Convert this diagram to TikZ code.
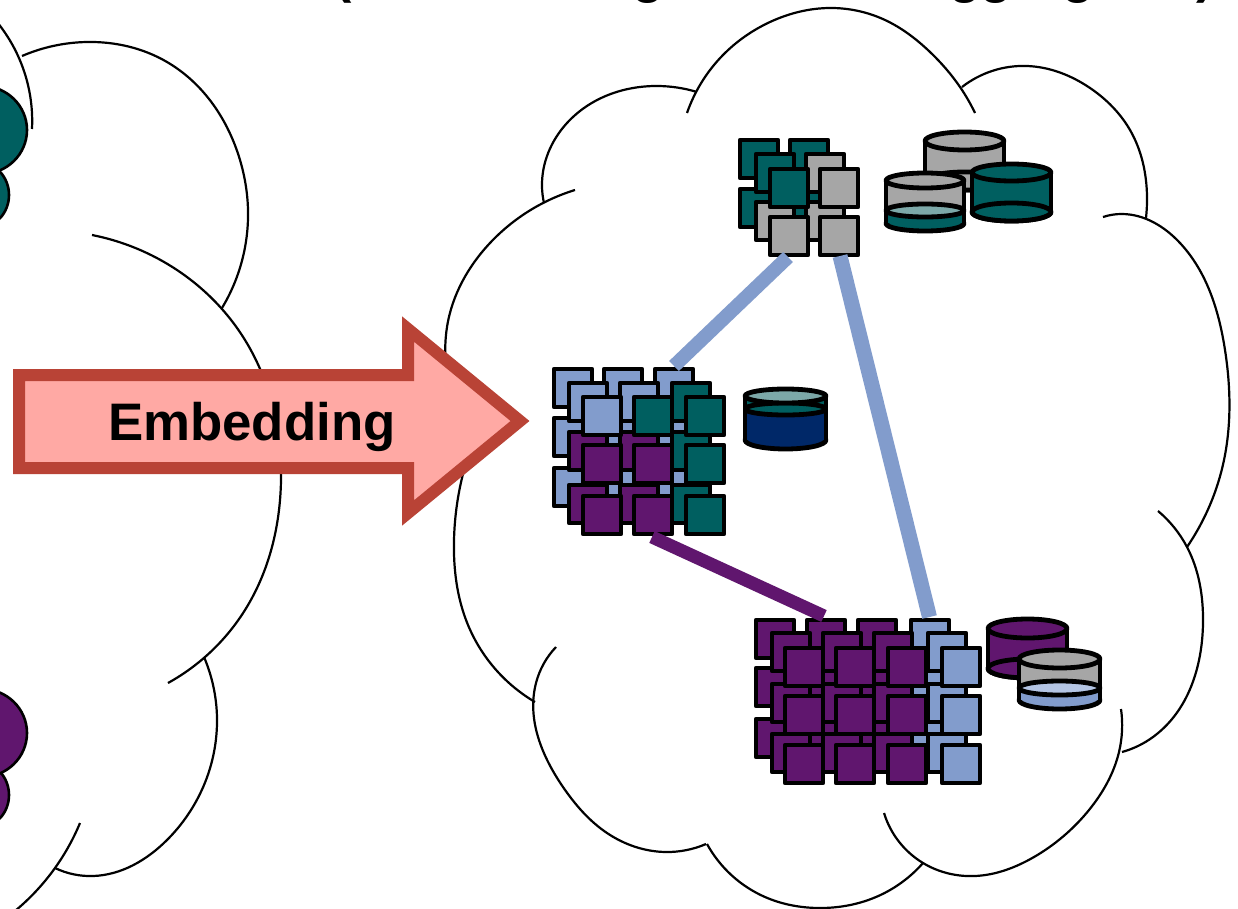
\documentclass[tikz,border=0pt]{standalone}
\usepackage{fontspec}
\setmainfont{Liberation Sans}
\usetikzlibrary{hobby}
\definecolor{cteal}{HTML}{005F60}
\definecolor{cgray}{HTML}{A6A6A6}
\definecolor{cblue}{HTML}{829CCC}
\definecolor{cpurple}{HTML}{60166E}
\definecolor{cnavy}{HTML}{002868}
\definecolor{clteal}{HTML}{7CA8A8}
\definecolor{clblue}{HTML}{B4C5E4}
\definecolor{arrowedge}{HTML}{B94336}
\definecolor{arrowfill}{HTML}{FFA9A4}
\tikzset{
  cloudline/.style={draw=black,line width=2.2pt,line cap=butt,use Hobby shortcut},
  lobe/.style={draw=black,line width=2.6pt},
  cellbox/.style={draw=black,line width=4.6pt,line join=round},
  cylline/.style={draw=black,line width=4.8pt,line join=round},
  titleglyph/.style={anchor=base west,inner sep=0pt,font=\bfseries\fontsize{52}{60}\selectfont},
  bigarrow/.style={draw=arrowedge,fill=arrowfill,line width=12pt,line join=miter,miter limit=10},
  link/.style={line width=#1,line cap=butt}
}
% x y colour: outer top-left corner of a 42 x 42 cell
\newcommand{\cellsq}[3]{\draw[cellbox,fill=#3] ({#1+2},{#2+2}) rectangle ++(38,38);}
% colours: top ellipse, upper body, level ellipse, lower body
\newcommand{\cylcolors}[4]{\colorlet{cTop}{#1}\colorlet{cBody}{#2}\colorlet{cLev}{#3}\colorlet{cLiq}{#4}}
% cx rx ytop rytop ylevel rylevel ybottom rybottom
\newcommand{\cyl}[8]{%
  \draw[cylline,fill=cLiq] (#1,#7) ellipse [x radius=#2,y radius=#8];
  \fill[cLiq] ({#1-#2},#5) rectangle ({#1+#2},#7);
  \fill[cBody] ({#1-#2},#3) rectangle ({#1+#2},#5);
  \draw[cylline] ({#1-#2},#3) -- ({#1-#2},#7) ({#1+#2},#3) -- ({#1+#2},#7);
  \draw[cylline,fill=cLev] (#1,#5) ellipse [x radius=#2,y radius=#6];
  \draw[cylline,fill=cTop] (#1,#3) ellipse [x radius=#2,y radius=#4];
}
\begin{document}
\begin{tikzpicture}[x=1pt,y=-1pt]
\useasboundingbox (0,0) rectangle (1238,909);
\clip (0,0) rectangle (1238,909);
\fill[white] (0,0) rectangle (1238,909);

% title fragments cut by the top edge
\node[titleglyph] (t1) at (334,-7) {(};
\node[titleglyph] (t2) at (632,-7) {g};
\node[titleglyph] (t3) at (949,-7) {gg};
\node[titleglyph] (t4) at (1062,-7) {g};
\node[titleglyph] (t5) at (1196,-7) {)};

% left cloud lobes
\draw[lobe,fill=cteal] (-20,195) ellipse [x radius=29,y radius=32];
\draw[lobe,fill=cteal] (-18,130) ellipse [x radius=45,y radius=44];
\draw[lobe,fill=cpurple] (-20,795) ellipse [x radius=29,y radius=32];
\draw[lobe,fill=cpurple] (-18,733) ellipse [x radius=45,y radius=44];

% left cloud
\draw[cloudline] (-3,22) .. (28,85) .. (32,129);
\draw[cloudline] (22,56) .. (87,42) .. (167,62) .. (240,160) .. (248,210) .. (222,308);
\draw[cloudline] (92,235) .. (177,270) .. (245,340) .. (281,480) .. (245,610) .. (168,683);
\draw[cloudline] (204,657) .. (217,723) .. (167,840) .. (93,876) .. (55,868);
\draw[cloudline] (80,823) .. (55,868) .. (10,915);

% right cloud
\draw[cloudline] (687,113) .. (723,55) .. (770,22) .. (830,8) .. (885,20) .. (930,52) .. (960,87) .. (975,113);
\draw[cloudline] (962,87) .. (1027,66) .. (1090,88) .. (1130,130) .. (1147,197) .. (1146,218);
\draw[cloudline] (1103,217) .. (1122,214) .. (1180,243) .. (1225,350) .. (1224,460) .. (1187,547);
\draw[cloudline] (1158,511) .. (1187,547) .. (1203,623) .. (1153,737) .. (1122,752);
\draw[cloudline] (1121,709) .. (1119,752) .. (1089,810) .. (1034,857) .. (975,876) .. (923,863) .. (884,813);
\draw[cloudline] (923,863) .. (876,897) .. (820,908) .. (765,897) .. (707,844);
\draw[cloudline] (556,647) .. (536,683) .. (563,787) .. (607,833) .. (666,852) .. (706,844);
\draw[cloudline] (575,190) .. (490,243) .. (447,327) .. (449,400) .. (455,450);
\draw[cloudline] (464,470) .. (454,540) .. (468,625) .. (535,702);
\draw[cloudline] (697,92) .. (657,86) .. (567,123) .. (542,187) .. (544,203);

% embedding arrow
\draw[bigarrow] (19,375) -- (408,375) -- (408,329) -- (520,421) -- (408,513) -- (408,468) -- (19,468) -- cycle;
\node[anchor=base west,inner sep=0pt,font=\bfseries\fontsize{52.8}{60}\selectfont] (embed) at (108,440) {Embedding};

% top group
\foreach \x/\y/\c in {738/138/cteal,788/138/cteal,738/187/cteal,788/187/cteal,
  754/152/cteal,804/152/cgray,754/200/cgray,804/200/cgray,
  768/167/cteal,818/167/cgray,768/215/cgray,818/215/cgray}
  {\cellsq{\x}{\y}{\c}}
% middle group
\foreach \x/\y/\c in {552/367/cblue,602/367/cblue,653/367/cblue,
  552/416/cblue,602/416/cblue,653/416/cblue,
  552/466/cblue,602/466/cblue,653/466/cblue,
  567/381/cblue,618/381/cblue,670/381/cteal,
  567/430/cpurple,618/430/cpurple,670/430/cteal,
  567/483/cpurple,618/483/cpurple,670/483/cteal,
  581/395/cblue,632/395/cteal,684/395/cteal,
  581/443/cpurple,632/443/cpurple,684/443/cteal,
  581/494/cpurple,632/494/cpurple,684/494/cteal}
  {\cellsq{\x}{\y}{\c}}
% bottom group
\foreach \x/\y/\c in {754/618/cpurple,805/618/cpurple,856/618/cpurple,909/618/cblue,
  754/666/cpurple,805/666/cpurple,856/666/cpurple,909/666/cblue,
  754/717/cpurple,805/717/cpurple,856/717/cpurple,909/717/cblue,
  770/631/cpurple,821/631/cpurple,872/631/cpurple,926/631/cblue,
  770/682/cpurple,821/682/cpurple,872/682/cpurple,926/682/cblue,
  770/732/cpurple,821/732/cpurple,872/732/cpurple,926/732/cblue,
  783/646/cpurple,834/646/cpurple,886/646/cpurple,940/646/cblue,
  783/694/cpurple,834/694/cpurple,886/694/cpurple,940/694/cblue,
  783/743/cpurple,834/743/cpurple,886/743/cpurple,940/743/cblue}
  {\cellsq{\x}{\y}{\c}}

% links
\coordinate (topL) at (788,257);
\coordinate (topR) at (840,256);
\coordinate (midT) at (674,366);
\coordinate (midB) at (652,537);
\coordinate (botL) at (824,616);
\coordinate (botR) at (929.5,617);
\draw[cblue,link=14pt] (topL) -- (midT);
\draw[cblue,link=15pt] (topR) -- (botR);
\draw[cpurple,link=13pt] (midB) -- (botL);

% cylinders
\cylcolors{cgray}{cgray}{cgray}{cgray}
\cyl{964.5}{39.5}{141}{9}{181}{9}{181}{9}
\cylcolors{cgray}{cgray}{clteal}{cteal}
\cyl{925}{39}{180.5}{7.5}{210.5}{6.5}{223.5}{7.5}
\cylcolors{cteal}{cteal}{cteal}{cteal}
\cyl{1011.5}{39.5}{172.5}{8.5}{212}{9}{212}{9}
\cylcolors{clteal}{cteal}{cteal}{cnavy}
\cyl{785.5}{40.5}{396}{7}{409}{6}{440}{9}
\cylcolors{cpurple}{cpurple}{cpurple}{cpurple}
\cyl{1027.5}{39.5}{628.5}{9.5}{668.5}{9.5}{668.5}{9.5}
\cylcolors{cgray}{cgray}{clblue}{cblue}
\cyl{1059.5}{40.5}{659}{9}{688}{7}{700}{9}
\end{tikzpicture}
\end{document}
